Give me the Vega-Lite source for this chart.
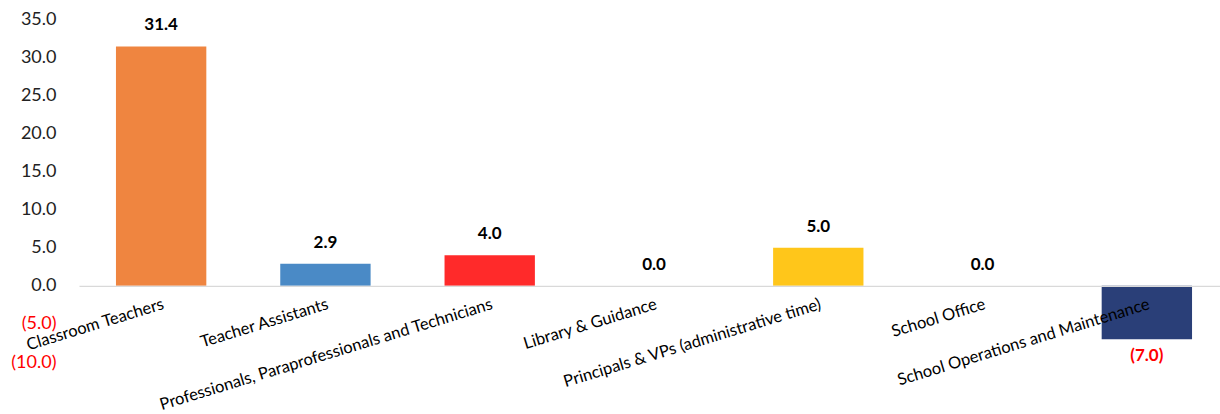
{
  "$schema": "https://vega.github.io/schema/vega-lite/v6.json",
  "width": 1150,
  "height": 343,
  "autosize": {"type": "none"},
  "padding": {"left": 79, "top": 19, "right": 0, "bottom": 52},
  "background": "#ffffff",
  "config": {"view": {"stroke": null}, "font": "Lato"},
  "data": {
    "values": [
      {"category": "Classroom Teachers", "value": 31.4},
      {"category": "Teacher Assistants", "value": 2.9},
      {"category": "Professionals, Paraprofessionals and Technicians", "value": 4.0},
      {"category": "Library & Guidance", "value": 0.0},
      {"category": "Principals & VPs (administrative time)", "value": 5.0},
      {"category": "School Office", "value": 0.0},
      {"category": "School Operations and Maintenance", "value": -7.0}
    ]
  },
  "encoding": {
    "x": {
      "field": "category",
      "type": "nominal",
      "sort": null,
      "scale": {"paddingInner": 0.45, "paddingOuter": 0.225},
      "axis": {
        "title": null,
        "zindex": 1,
        "offset": -76.2,
        "ticks": false,
        "domainColor": "#D9D9D9",
        "domainWidth": 1.3,
        "labelAngle": -17,
        "labelAlign": "right",
        "labelBaseline": "top",
        "labelPadding": 10,
        "labelFont": "Lato",
        "labelFontSize": 16.5,
        "labelColor": "#000000",
        "labelLimit": 600,
        "labelOverlap": false,
        "labelFlush": false
      }
    },
    "y": {
      "field": "value",
      "type": "quantitative",
      "scale": {"domain": [-10, 35], "nice": false, "zero": false},
      "axis": {
        "title": null,
        "values": [-10, -5, 0, 5, 10, 15, 20, 25, 30, 35],
        "format": "(.1f",
        "grid": false,
        "domain": false,
        "ticks": false,
        "labelPadding": 23,
        "labelFont": "Lato",
        "labelFontSize": 18,
        "labelColor": {"condition": {"test": "datum.value < 0", "value": "#FF0000"}, "value": "#222222"}
      }
    }
  },
  "layer": [
    {
      "mark": {"type": "bar"},
      "encoding": {
        "color": {
          "field": "category",
          "type": "nominal",
          "legend": null,
          "scale": {
            "domain": ["Classroom Teachers", "Teacher Assistants", "Professionals, Paraprofessionals and Technicians", "Library & Guidance", "Principals & VPs (administrative time)", "School Office", "School Operations and Maintenance"],
            "range": ["#EF8540", "#4A8AC6", "#FF2A2A", "#A5A5A5", "#FFC61A", "#5B9BD5", "#2A3F78"]
          }
        }
      }
    },
    {
      "transform": [{"filter": "datum.value >= 0"}],
      "mark": {"type": "text", "baseline": "middle", "dy": -21, "fontSize": 17, "fontWeight": "bold", "font": "Lato", "color": "#000000"},
      "encoding": {"text": {"field": "value", "type": "quantitative", "format": "(.1f"}}
    },
    {
      "transform": [{"filter": "datum.value < 0"}],
      "mark": {"type": "text", "baseline": "middle", "dy": 17, "fontSize": 17, "fontWeight": "bold", "font": "Lato", "color": "#FF0000"},
      "encoding": {"text": {"field": "value", "type": "quantitative", "format": "(.1f"}}
    }
  ]
}
